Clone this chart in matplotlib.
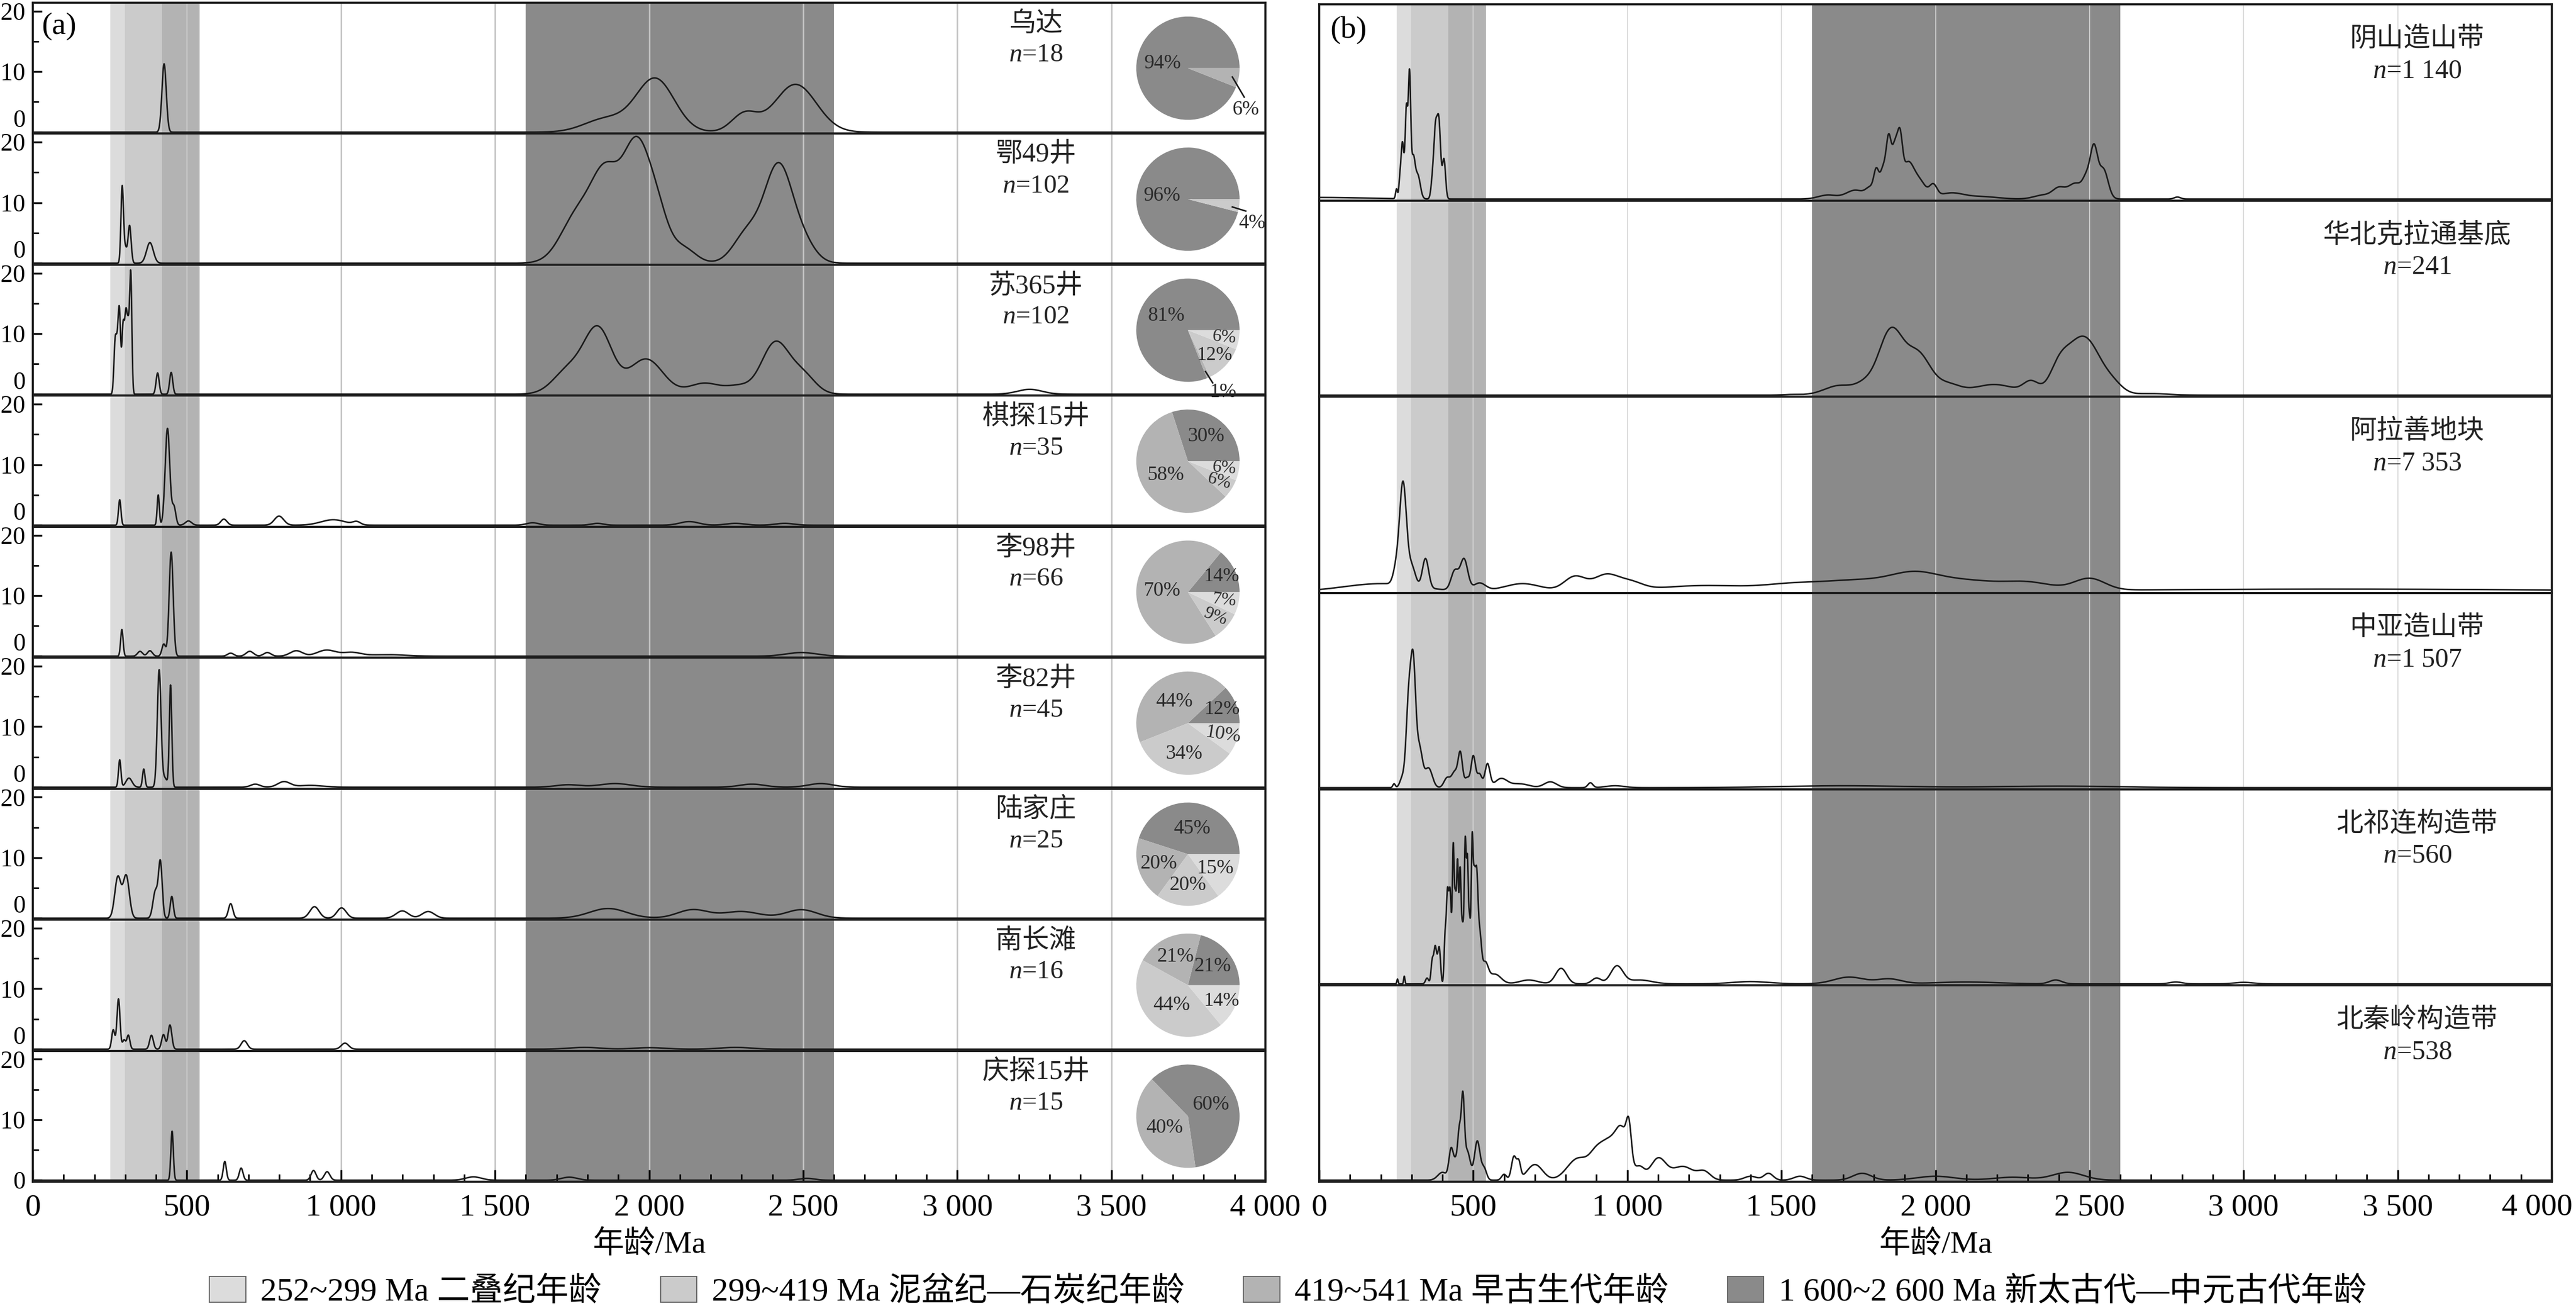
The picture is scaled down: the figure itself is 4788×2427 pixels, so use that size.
import numpy as np
import matplotlib
matplotlib.use("Agg")
import matplotlib.pyplot as plt
from matplotlib.patches import Patch
from matplotlib.ticker import MultipleLocator, FuncFormatter

plt.rcParams['font.family'] = ['Liberation Serif', 'Noto Sans CJK SC']
plt.rcParams['mathtext.fontset'] = 'custom'
plt.rcParams['mathtext.it'] = 'Liberation Serif:italic'
plt.rcParams['mathtext.rm'] = 'Liberation Serif'

# age bands (Ma) shaded on every panel
band_ranges = [(252, 299), (299, 419), (419, 541), (1600, 2600)]
band_labels = ['252~299 Ma 二叠纪年龄', '299~419 Ma 泥盆纪—石炭纪年龄',
               '419~541 Ma 早古生代年龄', '1 600~2 600 Ma 新太古代—中元古代年龄']
band_colors = ['#dcdcdc', '#cbcbcb', '#b3b3b3', '#8a8a8a']

# ---- (a) samples ----
left_names = ['乌达', '鄂49井', '苏365井', '棋探15井', '李98井', '李82井', '陆家庄', '南长滩', '庆探15井']
left_n = ['18', '102', '102', '35', '66', '45', '25', '16', '15']

# density peaks: (age Ma, height, spread Ma)
wuda_peaks = [(426, 11.3, 7), (1860, 2.2, 70), (2020, 8.8, 62), (2310, 3.0, 42), (2475, 7.9, 68)]
e49_peaks = [(290, 12.5, 4), (300, 2.5, 5), (314, 6.2, 5), (380, 3.4, 11),
             (1770, 8, 55), (1860, 13, 45), (1960, 19, 45), (2030, 6, 35), (2110, 2.5, 40),
             (2320, 5, 45), (2420, 15.8, 45), (2500, 3, 40)]
su365_peaks = [(267, 8, 4), (274, 6, 4), (281, 13, 4), (293, 11, 4), (302, 12, 4), (310, 10, 4),
               (318, 19, 3.5), (405, 3.5, 5), (449, 3.6, 5),
               (1740, 4, 50), (1835, 10.5, 45), (1990, 5.8, 55), (2180, 1.8, 50), (2290, 1.2, 40),
               (2410, 8.5, 45), (2500, 3, 40), (3235, 0.8, 40)]
qitan15_peaks = [(282, 4.2, 4), (407, 5, 3.5), (437, 16, 7.5), (458, 3, 6), (505, 0.7, 10), (620, 1.0, 10),
                 (799, 1.5, 15), (975, 0.9, 40), (1051, 0.5, 12), (1622, 0.4, 20), (1832, 0.3, 20),
                 (2130, 0.6, 30), (2280, 0.3, 30), (2440, 0.3, 30)]
li98_peaks = [(289, 4.4, 4), (348, 0.8, 8), (380, 0.9, 8), (425, 2.0, 6), (449, 17.2, 6.5), (642, 0.5, 10),
              (704, 0.8, 12), (761, 0.6, 12), (855, 0.9, 20), (953, 1.0, 30), (1034, 0.6, 30),
              (1150, 0.25, 60), (2494, 0.6, 50)]
li82_peaks = [(282, 4.5, 4), (312, 1.5, 10), (360, 3.0, 4), (410, 19.3, 6), (428, 1.5, 8), (447, 16.8, 4),
              (722, 0.5, 15), (815, 0.9, 20), (900, 0.3, 40), (1737, 0.4, 40), (1889, 0.6, 50),
              (2334, 0.5, 40), (2557, 0.6, 40)]
lujiazhuang_peaks = [(276, 6.8, 10), (303, 7.0, 10), (398, 4.5, 8), (414, 9.0, 6), (451, 3.6, 5),
                     (642, 2.4, 7), (914, 1.9, 15), (1002, 1.7, 15), (1199, 1.2, 20), (1283, 1.1, 20),
                     (1867, 1.6, 60), (2142, 1.4, 50), (2299, 1.1, 60), (2494, 1.4, 50)]
nanchangtan_peaks = [(261, 3.2, 5), (278, 8.3, 5), (296, 1.5, 5), (310, 2.3, 5), (385, 2.3, 6), (424, 2.4, 6),
                     (445, 4.0, 6), (686, 1.4, 10), (1013, 1.0, 12), (1790, 0.3, 50), (2001, 0.25, 50),
                     (2280, 0.3, 50)]
qingtan15_peaks = [(452, 8.1, 4), (623, 3.1, 5), (676, 2.0, 6), (911, 1.6, 8), (955, 1.4, 9),
                   (1430, 0.55, 25), (1741, 0.5, 25), (2512, 0.3, 25)]
left_peaks = [wuda_peaks, e49_peaks, su365_peaks, qitan15_peaks, li98_peaks, li82_peaks,
              lujiazhuang_peaks, nanchangtan_peaks, qingtan15_peaks]

# pie shares (%), order: 1600-2600, 419-541, 299-419, 252-299
left_pie_pct = [[94, 6, 0, 0], [96, 0, 4, 0], [81, 1, 12, 6], [30, 58, 6, 6], [14, 70, 9, 7],
                [12, 44, 34, 10], [45, 20, 20, 15], [21, 21, 44, 14], [60, 40, 0, 0]]

# ---- (b) source areas ----
right_names = ['阴山造山带', '华北克拉通基底', '阿拉善地块', '中亚造山带', '北祁连构造带', '北秦岭构造带']
right_n = ['1 140', '241', '7 353', '1 507', '560', '538']

yinshan_peaks = [(0, 0.008, 150), (251, 0.05, 3), (261, 0.06, 3), (270, 0.29, 5), (283, 0.45, 4),
                 (293, 0.62, 4), (305, 0.2, 6), (320, 0.12, 8), (368, 0.1, 5), (377, 0.3, 5),
                 (388, 0.4, 6), (405, 0.2, 5), (1650, 0.02, 30), (1740, 0.045, 30), (1790, 0.05, 15),
                 (1808, 0.12, 8), (1830, 0.15, 10), (1848, 0.27, 8), (1868, 0.25, 10), (1885, 0.22, 8),
                 (1910, 0.18, 20), (1950, 0.08, 20), (1993, 0.06, 12), (2050, 0.03, 40), (2150, 0.012, 50),
                 (2350, 0.02, 30), (2400, 0.05, 20), (2455, 0.08, 25), (2490, 0.08, 12), (2514, 0.25, 12),
                 (2545, 0.15, 15), (2785, 0.01, 10)]
huabei_peaks = [(1533, 0.004, 30), (1690, 0.05, 50), (1770, 0.04, 30), (1855, 0.33, 40), (1945, 0.2, 40),
                (2040, 0.05, 40), (2190, 0.055, 70), (2310, 0.06, 25), (2400, 0.1, 30), (2480, 0.3, 55),
                (2580, 0.03, 30), (2700, 0.008, 60)]
alashan_peaks = [(200, 0.04, 120), (250, 0.08, 10), (272, 0.52, 11), (300, 0.1, 12), (345, 0.15, 10),
                 (440, 0.1, 12), (470, 0.16, 12), (520, 0.04, 20), (660, 0.04, 60), (830, 0.075, 35),
                 (930, 0.08, 40), (1010, 0.04, 40), (1250, 0.03, 150), (1550, 0.035, 100),
                 (1750, 0.05, 100), (1930, 0.08, 80), (2100, 0.05, 100), (2300, 0.04, 80),
                 (2500, 0.06, 50), (3300, 0.012, 700)]
zhongya_peaks = [(243, 0.02, 4), (270, 0.05, 8), (290, 0.42, 8), (305, 0.6, 8), (325, 0.2, 10),
                 (355, 0.1, 12), (415, 0.05, 10), (440, 0.08, 10), (458, 0.17, 7), (480, 0.05, 8),
                 (500, 0.16, 7), (520, 0.07, 8), (546, 0.12, 8), (590, 0.045, 20), (650, 0.02, 30),
                 (750, 0.03, 20), (880, 0.025, 8), (960, 0.01, 30), (1700, 0.01, 200), (2400, 0.008, 200)]
qilian_peaks = [(254, 0.025, 2), (276, 0.04, 2), (350, 0.03, 5), (367, 0.12, 4), (376, 0.17, 4),
                (383, 0.08, 4), (390, 0.17, 4), (408, 0.2, 3), (416, 0.45, 4), (425, 0.45, 4),
                (435, 0.68, 3), (442, 0.4, 3), (449, 0.6, 3), (457, 0.5, 3), (465, 0.3, 5), (474, 0.66, 3),
                (481, 0.6, 3), (488, 0.3, 3), (496, 0.65, 3), (503, 0.5, 4), (511, 0.45, 4), (520, 0.25, 6),
                (538, 0.1, 10), (570, 0.05, 20), (680, 0.02, 30), (785, 0.08, 18), (900, 0.03, 15),
                (966, 0.09, 20), (1040, 0.02, 40), (1400, 0.012, 60), (1720, 0.035, 50), (1850, 0.025, 40),
                (2100, 0.01, 100), (2390, 0.02, 20), (2780, 0.01, 20), (3000, 0.008, 30)]
qinling_peaks = [(400, 0.04, 15), (428, 0.15, 7), (445, 0.1, 8), (455, 0.2, 5), (466, 0.38, 5),
                 (480, 0.15, 10), (513, 0.2, 9), (535, 0.06, 8), (600, 0.03, 8), (632, 0.12, 8),
                 (648, 0.08, 6), (700, 0.08, 25), (840, 0.11, 35), (895, 0.05, 20), (940, 0.2, 35),
                 (985, 0.18, 20), (1005, 0.17, 8), (1040, 0.06, 15), (1100, 0.11, 25), (1180, 0.07, 35),
                 (1250, 0.04, 20), (1400, 0.02, 20), (1458, 0.035, 15), (1560, 0.02, 20),
                 (1762, 0.035, 30), (2000, 0.02, 60), (2250, 0.015, 60), (2430, 0.04, 50)]
right_peaks = [yinshan_peaks, huabei_peaks, alashan_peaks, zhongya_peaks, qilian_peaks, qinling_peaks]

# ---------------------------------------------------------------
W, H = 4788, 2427
fig = plt.figure(figsize=(W / 100, H / 100), dpi=100)
age = np.linspace(0, 4000, 8001)
line_c = '#1a1a1a'


def kde(peaks):
    y = np.zeros_like(age)
    for mu, h, s in peaks:
        y += h * np.exp(-0.5 * ((age - mu) / s) ** 2)
    return y


def add_row(x0, x1, top, bot):
    ax = fig.add_axes([x0 / W, 1 - bot / H, (x1 - x0) / W, (bot - top) / H])
    ax.patch.set_visible(False)
    return ax


def age_fmt(v, p, skip_last=False):
    if skip_last and v >= 4000:
        return ''
    return f'{int(v):,}'.replace(',', ' ')


def style_row(ax, grid_c, grid_lw, last, skip_last=False):
    ax.set_xlim(0, 4000)
    for (a, b), c in zip(band_ranges, band_colors):
        ax.axvspan(a, b, color=c, lw=0, zorder=0)
    for g in range(500, 4000, 500):
        ax.axvline(g, color=grid_c, lw=grid_lw, zorder=1)
    for s in ax.spines.values():
        s.set_linewidth(2.8)
        s.set_color('#1e1e1e')
        s.set_zorder(4)
    ax.xaxis.set_major_locator(MultipleLocator(500))
    ax.xaxis.set_minor_locator(MultipleLocator(100))
    if last:
        ax.tick_params(axis='x', which='major', direction='in', length=16, width=2.5,
                       labelsize=42, pad=16)
        ax.tick_params(axis='x', which='minor', direction='in', length=10, width=2.2)
        ax.xaxis.set_major_formatter(FuncFormatter(lambda v, p: age_fmt(v, p, skip_last)))
    else:
        ax.tick_params(axis='x', which='both', bottom=False, labelbottom=False)


# left panel
L0, L1, LT, LB = 61, 2352, 5, 2196
lh = (LB - LT) / 9
pie_colors = [band_colors[3], band_colors[2], band_colors[1], band_colors[0]]
pie_start = [0, 0, 0, 0, 0, 0, 0, 0, -81.6]
# labels put outside the pie with a leader line: (start, end, text) in pie radius units
outside = {(0, 1): ((0.86, -0.17), (1.09, -0.56), (1.12, -0.8)),
           (1, 2): ((0.86, -0.15), (1.12, -0.23), (1.24, -0.46)),
           (2, 1): ((0.34, -0.8), (0.48, -1.02), (0.68, -1.2))}
pcx = (2208 - L0) / (L1 - L0)
pw, ph = 192 / (L1 - L0), 192 / lh

for i, (name, n, peaks, pct) in enumerate(zip(left_names, left_n, left_peaks, left_pie_pct)):
    ax = add_row(L0, L1, LT + i * lh, LT + (i + 1) * lh)
    style_row(ax, '#c4c4c4', 2.0, i == 8)
    ax.plot(age, kde(peaks), color=line_c, lw=2.0, zorder=3)
    ax.set_ylim(-0.25, 21.4)
    ax.set_yticks([0, 10, 20])
    ax.yaxis.set_minor_locator(MultipleLocator(5))
    ax.tick_params(axis='y', which='major', direction='in', length=12, width=2.5, labelsize=33, pad=10)
    ax.tick_params(axis='y', which='minor', direction='in', length=8, width=2.2)
    if i < 8:
        ax.get_yticklabels()[0].set_verticalalignment('bottom')
    tr = ax.get_xaxis_transform()
    ax.text(3255, 0.835, name, transform=tr, ha='center', va='center', fontsize=36, color='#222222')
    ax.text(3255, 0.6, f'$n$={n}', transform=tr, ha='center', va='center', fontsize=35, color='#222222')
    if i == 0:
        ax.text(0.007, 0.82, '(a)', transform=ax.transAxes, ha='left', va='center', fontsize=42)

    pax = ax.inset_axes([pcx - pw / 2, 0.5 - ph / 2, pw, ph])
    pax.patch.set_visible(False)
    sa = pie_start[i]
    pax.pie(pct, colors=pie_colors, startangle=sa, counterclock=True, wedgeprops=dict(linewidth=0))
    pax.set_xlim(-1, 1)
    pax.set_ylim(-1, 1)
    pax.set_aspect('equal')
    pax.axis('off')
    cum = 0
    for j, v in enumerate(pct):
        if v == 0:
            continue
        mid_deg = sa + 3.6 * (cum + v / 2)
        mid = np.deg2rad(mid_deg)
        cum += v
        if (i, j) in outside:
            (sx, sy), (ex, ey), (tx, ty) = outside[(i, j)]
            pax.plot([sx, ex], [sy, ey], color=line_c, lw=2.0, clip_on=False)
            pax.text(tx, ty, f'{v}%', ha='center', va='center', fontsize=27, color='#2a2a2a')
        elif v < 15:
            # thin wedges sit near the rim; the thinnest are tilted with the wedge
            ang = (mid_deg + 180) % 360 - 180
            rot = 0.5 * ang if v <= 10 else 0
            pax.text(0.72 * np.cos(mid), 0.72 * np.sin(mid), f'{v}%', ha='center', va='center',
                     fontsize=24 if v < 10 else 26, rotation=rot, rotation_mode='anchor',
                     color='#2a2a2a')
        else:
            r = 0.5 if v >= 40 else 0.6
            pax.text(r * np.cos(mid), r * np.sin(mid), f'{v}%', ha='center', va='center',
                     fontsize=27, color='#2a2a2a')

# right panel
R0, R1, RT, RB = 2452, 4743, 8, 2196
rh = (RB - RT) / 6
for i, (name, n, peaks) in enumerate(zip(right_names, right_n, right_peaks)):
    ax = add_row(R0, R1, RT + i * rh, RT + (i + 1) * rh)
    style_row(ax, '#d6d6d6', 1.2, i == 5, skip_last=True)
    ax.plot(age, kde(peaks), color=line_c, lw=2.0, zorder=3)
    ax.set_ylim(-0.008, 1.0)
    ax.set_yticks([])
    tr = ax.get_xaxis_transform()
    ax.text(3563, 0.82, name, transform=tr, ha='center', va='center', fontsize=36, color='#222222')
    ax.text(3563, 0.66, f'$n$={n}', transform=tr, ha='center', va='center', fontsize=36, color='#222222')
    if i == 0:
        ax.text(0.009, 0.87, '(b)', transform=ax.transAxes, ha='left', va='center', fontsize=42)

# last age label of panel (b) sits against the right edge
fig.text(4782 / W, 1 - 2218 / H, '4 000', ha='right', va='top', fontsize=42)

fig.text((L0 + L1) / 2 / W, 1 - 2313 / H, '年龄/Ma', ha='center', va='center', fontsize=42)
fig.text((R0 + R1) / 2 / W, 1 - 2313 / H, '年龄/Ma', ha='center', va='center', fontsize=42)

handles = [Patch(facecolor=c, edgecolor='#666666', linewidth=1.5) for c in band_colors]
fig.legend(handles, band_labels, loc='center', bbox_to_anchor=(0.5, 1 - 2401 / H), ncol=4,
           frameon=False, fontsize=44, handlelength=1.1, handleheight=0.82,
           handletextpad=0.45, columnspacing=1.8, borderpad=0)

fig.savefig('out.png', dpi=100)
